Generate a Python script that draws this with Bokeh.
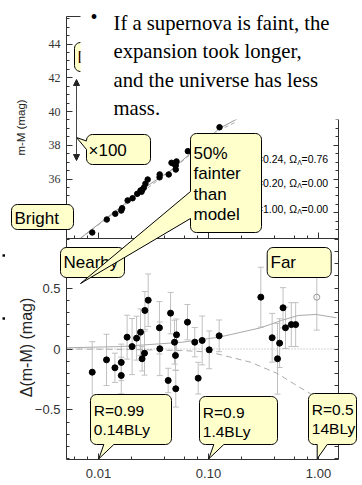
import numpy as np
from bokeh.plotting import figure
from bokeh.models import (Range1d, LinearScale, LogScale, LinearAxis, LogAxis,
                          SingleIntervalTicker, LogTicker, NumeralTickFormatter,
                          CustomJSTickFormatter, Arrow, NormalHead, Whisker, TeeHead,
                          ColumnDataSource)
from bokeh.core.properties import value
from bokeh.embed import file_html
from bokeh.resources import INLINE

# ---------------- data ----------------
# top panel: distance modulus m-M vs redshift z (visible supernovae)
top_z = [0.00877, 0.0119, 0.0142, 0.0161, 0.0164, 0.0184, 0.0204, 0.0225, 0.0241, 0.0246,
         0.02495, 0.0258, 0.0267, 0.0280, 0.0359, 0.0360, 0.0435, 0.0461, 0.0484, 0.0504,
         0.0504, 0.0512, 0.0649, 0.126]
top_mm = [32.83, 33.60, 33.94, 34.13, 34.27, 34.73, 34.86, 35.12, 35.32, 35.24,
          35.36, 35.48, 35.72, 35.97, 36.10, 36.27, 36.27, 36.96, 36.90, 36.80,
          36.56, 37.04, 37.65, 39.07]
top_line_z = [0.00686, 0.0297, 0.0452, 0.126, 0.183]
top_line_mm = [32.49, 35.72, 36.50, 39.00, 39.57]
top_dash_z = [0.00686, 0.0452, 0.126, 0.183]
top_dash_mm = [32.49, 36.48, 38.90, 39.42]

# bottom panel: residuals Delta(m-M) vs z
bot_z = [0.00877, 0.01183, 0.0141, 0.0161, 0.0161, 0.0182, 0.0202, 0.0222, 0.0241, 0.0249,
         0.0262, 0.0264, 0.0283, 0.0358, 0.0361, 0.0430, 0.0452, 0.0491, 0.0501, 0.0504,
         0.0512, 0.0644, 0.0750, 0.0806, 0.0876, 0.1015, 0.125, 0.299, 0.379, 0.424,
         0.443, 0.476, 0.501, 0.566, 0.620]
bot_d = [-0.190, -0.089, -0.154, -0.217, -0.110, 0.097, 0.020, 0.089, 0.138, -0.080,
         -0.034, 0.316, 0.400, 0.174, 0.002, -0.258, 0.294, 0.056, -0.053, -0.326,
         0.116, 0.220, 0.056, -0.239, 0.070, -0.007, 0.108, 0.425, 0.092, -0.080,
         0.048, 0.338, 0.174, 0.200, 0.200]
bot_err = [0.25, 0.21, 0.12, 0.15, 0.15, 0.18, 0.23, 0.18, 0.19, 0.10,
           0.18, 0.155, 0.215, 0.215, 0.22, 0.10, 0.17, 0.18, 0.12, 0.15,
           0.13, 0.145, 0.12, 0.13, 0.20, 0.155, 0.13, 0.245, 0.20, 0.29,
           0.20, 0.165, 0.17, 0.18, 0.18]
open_z = [0.965]
open_d = [0.425]
open_err = [0.27]

solid_z = [0.00512, 0.0158, 0.0569, 0.125, 0.299, 0.46, 0.654, 0.955, 1.455]
solid_d = [0.010, 0.020, 0.055, 0.097, 0.174, 0.234, 0.275, 0.283, 0.256]
dash_z = [0.00512, 0.0158, 0.0569, 0.1042, 0.2406, 0.4209, 0.5963, 0.8453, 1.285]
dash_d = [0.000, -0.003, -0.012, -0.026, -0.108, -0.200, -0.285, -0.367, -0.500]
dot_z = [0.00512, 1.52]
dot_d = [0.0, 0.0]

x_tick_fmt = "0.00"
top_axis_label = "m-M (mag)"
bot_axis_label = "\u0394(m-M) (mag)"
legend_rows = [("\u03a9M=0.24, \u03a9", "=0.76"), ("\u03a9M=0.20, \u03a9", "=0.00"),
               ("\u03a9M=1.00, \u03a9", "=0.00")]
bullet_lines = ["If a supernova is faint, the", "expansion took longer,",
                "and the universe has less", "mass."]

# ---------------- styling / geometry ----------------
W, H = 362, 485
SANS = "Liberation Sans"
SERIF = "Liberation Serif"
YELLOW = "#FFFFCC"
AX = "#333333"
FL, FR = 66, 338            # panel left / right (px)
T_TOP, MID, B_BOT = 16, 238, 459
Z_LO, Z_HI = 10 ** -2.2909, 10 ** 0.1818
MM_LO, MM_HI = 32.47, 45.63
D_LO, D_HI = -0.906, 0.906


def Y(y):                   # page y (down) -> canvas y (up)
    return H - y


def empty_fmt():
    return CustomJSTickFormatter(code="return ''")


def style_axis(ax, tin=6, tmin=3):
    ax.major_tick_in = tin
    ax.major_tick_out = 0
    ax.minor_tick_in = tmin
    ax.minor_tick_out = 0
    ax.axis_line_color = AX
    ax.major_tick_line_color = AX
    ax.minor_tick_line_color = AX if tmin else None
    ax.axis_label = None


def callout(x0, y0, x1, y1, r=6, tail=None, n=7):
    xs, ys = [], []

    def arc(cx, cy, a0, a1):
        for t in np.linspace(np.radians(a0), np.radians(a1), n):
            xs.append(float(cx + r * np.cos(t)))
            ys.append(float(cy + r * np.sin(t)))

    arc(x0 + r, y0 + r, 180, 270)
    arc(x1 - r, y0 + r, 270, 360)
    arc(x1 - r, y1 - r, 0, 90)
    if tail and tail[0] == "bottom":
        _, a, b, tx, ty = tail
        xs += [b, tx, a]
        ys += [y1, ty, y1]
    arc(x0 + r, y1 - r, 90, 180)
    if tail and tail[0] == "left":
        _, a, b, tx, ty = tail
        xs += [x0, tx, x0]
        ys += [b, ty, a]
    return xs, ys


p = figure(width=W, height=H, x_range=Range1d(0, W), y_range=Range1d(0, H),
           x_axis_location=None, y_axis_location=None, output_backend="svg",
           toolbar_location=None, min_border=0, outline_line_color=None,
           background_fill_color="white", border_fill_color="white")
p.grid.visible = False
p.extra_x_ranges = {"z": Range1d(10 ** -2.8909, 10 ** 0.4)}
p.extra_x_scales = {"z": LogScale()}
p.extra_y_ranges = {"mm": Range1d(17.837, 46.578), "d": Range1d(-1.119, 2.857)}
p.extra_y_scales = {"mm": LinearScale(), "d": LinearScale()}


def add_poly(xs, ys, fill, line="black", lw=1):
    p.patch([float(v) for v in xs], [float(Y(v)) for v in ys], fill_color=fill,
            line_color=line, line_width=lw, level="overlay")


def add_text(x, y, text, size="17px", font=SANS, color="black", align="left",
             baseline="middle", angle=0.0):
    p.text(x=[x], y=[Y(y)], text=[text], text_font=value(font), text_font_size=value(size),
           text_color=color, text_align=align, text_baseline=baseline, angle=angle,
           level="overlay")


# ---------------- axes ----------------
# top panel
a = LinearAxis(y_range_name="mm", fixed_location=FL, bounds=(MM_LO, MM_HI),
               ticker=SingleIntervalTicker(interval=2, num_minor_ticks=4))
style_axis(a, 6, 3)
a.major_label_text_font = SERIF
a.major_label_text_font_size = "12px"
a.major_label_text_color = "#333333"
a.major_label_standoff = 6
p.add_layout(a, "left")

a = LinearAxis(y_range_name="mm", fixed_location=FR, bounds=(MM_LO, MM_HI),
               ticker=SingleIntervalTicker(interval=2, num_minor_ticks=4),
               formatter=empty_fmt(), major_label_standoff=0)
style_axis(a, 5, 3)
p.add_layout(a, "right")

a = LogAxis(x_range_name="z", fixed_location=Y(MID), bounds=(Z_LO, Z_HI),
            ticker=LogTicker(), formatter=empty_fmt(), major_label_standoff=0)
style_axis(a, 6, 3)
p.add_layout(a, "below")

a = LogAxis(x_range_name="z", fixed_location=Y(T_TOP), bounds=(Z_LO, Z_HI),
            ticker=LogTicker(), formatter=empty_fmt(), major_label_standoff=0)
style_axis(a, 0, 0)
a.major_tick_line_color = None
p.add_layout(a, "above")

# bottom panel
a = LinearAxis(y_range_name="d", fixed_location=FL, bounds=(D_LO, D_HI),
               ticker=SingleIntervalTicker(interval=0.5, num_minor_ticks=5))
style_axis(a, 6, 3)
a.major_label_text_font = SANS
a.major_label_text_font_size = "13px"
a.major_label_text_color = "#333333"
a.major_label_standoff = 6
p.add_layout(a, "left")

a = LinearAxis(y_range_name="d", fixed_location=FR, bounds=(D_LO, D_HI),
               ticker=SingleIntervalTicker(interval=0.1, num_minor_ticks=0),
               formatter=empty_fmt(), major_label_standoff=0)
style_axis(a, 4, 0)
p.add_layout(a, "right")

a = LogAxis(x_range_name="z", fixed_location=Y(B_BOT), bounds=(Z_LO, Z_HI),
            ticker=LogTicker(), formatter=NumeralTickFormatter(format=x_tick_fmt))
style_axis(a, 6, 3)
a.major_label_text_font = SANS
a.major_label_text_font_size = "13px"
a.major_label_text_color = "#333333"
a.major_label_standoff = 9
p.add_layout(a, "below")

# ---------------- data marks ----------------
p.line(top_dash_z, top_dash_mm, x_range_name="z", y_range_name="mm",
       line_color="#aaaaaa", line_width=1, line_dash="4 3")
p.line(top_line_z, top_line_mm, x_range_name="z", y_range_name="mm",
       line_color="#999999", line_width=1)
p.scatter(top_z, top_mm, x_range_name="z", y_range_name="mm", size=5.5, color="black")

p.line(dot_z, dot_d, x_range_name="z", y_range_name="d", line_color="#aaaaaa",
       line_width=1, line_dash="1 2")
p.line(dash_z, dash_d, x_range_name="z", y_range_name="d", line_color="#aaaaaa",
       line_width=1, line_dash="6 4")
p.line(solid_z, solid_d, x_range_name="z", y_range_name="d", line_color="#aaaaaa",
       line_width=1)

for zz, dd, ee in [(bot_z, bot_d, bot_err), (open_z, open_d, open_err)]:
    src = ColumnDataSource(dict(z=zz, d=dd, up=[d + e for d, e in zip(dd, ee)],
                                lo=[d - e for d, e in zip(dd, ee)]))
    p.add_layout(Whisker(base="z", upper="up", lower="lo", source=src, dimension="height",
                         x_range_name="z", y_range_name="d",
                         line_color="#c0c0c0", line_width=1,
                         upper_head=TeeHead(size=6, line_color="#c0c0c0"),
                         lower_head=TeeHead(size=6, line_color="#c0c0c0")))
p.scatter(bot_z, bot_d, x_range_name="z", y_range_name="d", size=6, color="black")
p.scatter(open_z, open_d, x_range_name="z", y_range_name="d", size=6, fill_color=None,
          line_color="#999999")

# ---------------- axis titles ----------------
add_text(20, (T_TOP + MID) / 2, top_axis_label, size="11.5px", color="#222222",
         align="center", angle=np.pi / 2)
add_text(26, 347, bot_axis_label, size="16px", color="#222222", align="center",
         angle=np.pi / 2)

# ---------------- overlays ----------------
for (ta, tb), yy in zip(legend_rows, [158.5, 182.0, 208.0]):
    add_text(296.5, yy, ta, size="10.5px", align="right")
    add_text(296.7, yy + 3, "\u039b", size="7px")
    add_text(301.0, yy, tb, size="10.5px")

dx, dy = callout(74, 42, 150, 71)
add_poly(dx, dy, YELLOW)
add_text(77, 56.5, "Dark")

add_poly([80, 362, 362, 80], [0, 0, 119, 119], "white", line=None)
add_text(90, 16, "\u2022", size="20px", font=SERIF)
for i, s in enumerate(bullet_lines):
    add_text(113, 22.5 + 28.3 * i, s, size="20.7px", font=SERIF, baseline="alphabetic")

p.add_layout(Arrow(x_start=76, y_start=Y(160), x_end=76, y_end=Y(79),
                   line_color="#444444", line_width=1,
                   start=NormalHead(size=6, fill_color="#222222", line_color="#222222"),
                   end=NormalHead(size=6, fill_color="#222222", line_color="#222222"),
                   level="overlay"))

cx, cy = callout(86, 134, 150, 164, tail=("left", 140.5, 149, 76, 137))
add_poly(cx, cy, YELLOW)
add_text(88, 150, "\u00d7100")

bx, by = callout(11, 204, 73, 229)
add_poly(bx, by, YELLOW)
add_text(14, 217.5, "Bright")

nx, ny = callout(60, 247, 124, 277)
add_poly(nx, ny, YELLOW)
add_text(63, 262, "Nearby")

FX, FY = callout(190, 133, 261, 232, tail=("left", 191, 218, 80, 283))
add_poly(FX, FY, YELLOW)
for i, s in enumerate(["50%", "fainter", "than", "model"]):
    add_text(193, 153 + 20.4 * i, s)

fx, fy = callout(266.7, 247, 330.7, 277)
add_poly(fx, fy, YELLOW)
add_text(270, 262, "Far")

for (x0, y0, x1, ta, tb, tx, l1, l2, t1y) in [
        (90, 394, 171, 103.3, 113.3, 98.3, "R=0.99", "0.14BLy", 410),
        (199, 396, 277, 213.3, 223.3, 208.3, "R=0.9", "1.4BLy", 412),
        (308, 393, 356, 316.7, 326.7, 316.7, "R=0.5", "14BLy", 408.5)]:
    rx, ry = callout(x0, y0, x1, 444, tail=("bottom", ta, tb, tx, 458.3))
    add_poly(rx, ry, YELLOW)
    add_text(x0 + 3.3, t1y, l1, size="15.5px")
    add_text(x0 + 3.3, t1y + 19, l2, size="15.5px")

for yy in (255, 318):
    add_poly([2, 4.5, 4.5, 2], [yy - 1.2, yy - 1.2, yy + 1.2, yy + 1.2], "black", line=None)

open("out.html", "w").write(file_html(p, INLINE))
